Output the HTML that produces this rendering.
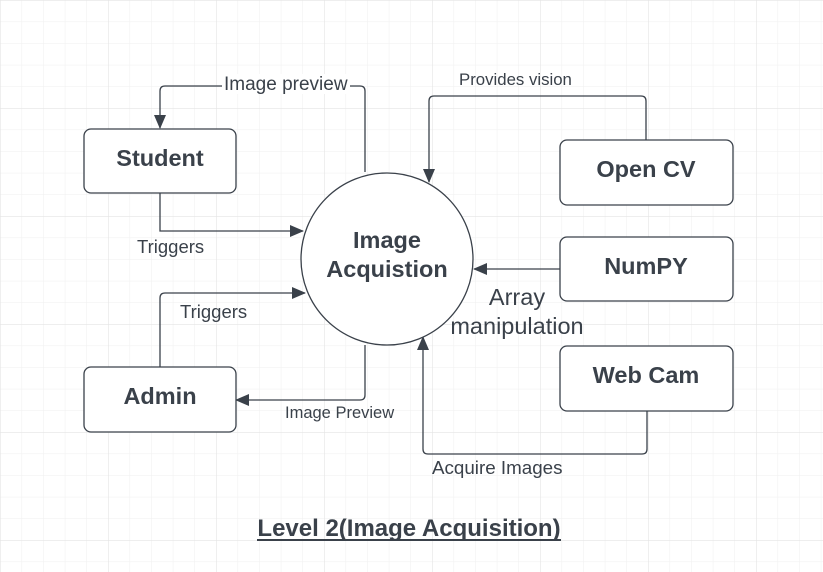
<!DOCTYPE html>
<html><head><meta charset="utf-8"><style>
html,body{margin:0;padding:0;background:#fff;}
svg{display:block;}
text{font-family:"Liberation Sans",Arial,sans-serif;fill:#3a414a;}
</style></head><body>
<svg width="823" height="572" viewBox="0 0 823 572" xmlns="http://www.w3.org/2000/svg">
<defs>
<pattern id="g" width="21.6" height="21.6" patternUnits="userSpaceOnUse">
<path d="M0 0H21.6M0 0V21.6" stroke="#efefef" stroke-width="1" fill="none"/>
</pattern>
<pattern id="G" width="108" height="108" patternUnits="userSpaceOnUse">
<path d="M0 0H108M0 0V108" stroke="#e4e4e4" stroke-width="1.2" fill="none"/>
</pattern>
<marker id="a" markerWidth="14" markerHeight="12" refX="13" refY="6" orient="auto" markerUnits="userSpaceOnUse">
<path d="M0 0L14 6L0 12Z" fill="#3a414a"/>
</marker>
</defs>
<rect width="823" height="572" fill="url(#g)"/>
<rect width="823" height="572" fill="url(#G)"/>
<g fill="none" stroke="#3a414a" stroke-width="1.3">
<path d="M365 172V91Q365 86 360 86H165Q160 86 160 91V128" marker-end="url(#a)"/>
<path d="M160 193V231H303" marker-end="url(#a)"/>
<path d="M160 367V298Q160 293 165 293H305" marker-end="url(#a)"/>
<path d="M365 345V395Q365 400 360 400H236" marker-end="url(#a)"/>
<path d="M646 140V101Q646 96 641 96H434Q429 96 429 101V182" marker-end="url(#a)"/>
<path d="M560 269H474" marker-end="url(#a)"/>
<path d="M647 411V449Q647 454 642 454H428Q423 454 423 449V337" marker-end="url(#a)"/>
</g>
<g fill="#fff" stroke="#3a414a" stroke-width="1.3">
<circle cx="387" cy="259" r="86"/>
<rect x="84" y="129" width="152" height="64" rx="7"/>
<rect x="84" y="367" width="152" height="65" rx="7"/>
<rect x="560" y="140" width="173" height="65" rx="7"/>
<rect x="560" y="237" width="173" height="64" rx="7"/>
<rect x="560" y="346" width="173" height="65" rx="7"/>
</g>
<rect x="222" y="74" width="128" height="20" fill="#fff"/>
<g font-weight="bold" font-size="23.5" text-anchor="middle">
<text x="160" y="166">Student</text>
<text x="160" y="404">Admin</text>
<text x="646" y="177">Open CV</text>
<text x="646" y="274">NumPY</text>
<text x="646" y="383">Web Cam</text>
<text x="387" y="248">Image</text>
<text x="387" y="277">Acquistion</text>
</g>
<text x="224" y="90" font-size="19">Image preview</text>
<text x="459" y="85" font-size="16.8">Provides vision</text>
<text x="137" y="253" font-size="18.5">Triggers</text>
<text x="180" y="318" font-size="18.5">Triggers</text>
<text x="285" y="418" font-size="16.5">Image Preview</text>
<text x="432" y="474" font-size="18.8">Acquire Images</text>
<g font-size="23.5" text-anchor="middle">
<text x="517" y="305">Array</text>
<text x="517" y="334">manipulation</text>
</g>
<text x="409" y="536" font-size="24" font-weight="bold" text-anchor="middle">Level 2(Image Acquisition)</text>
<rect x="257" y="539" width="304" height="2" fill="#3a414a"/>
</svg>
</body></html>
